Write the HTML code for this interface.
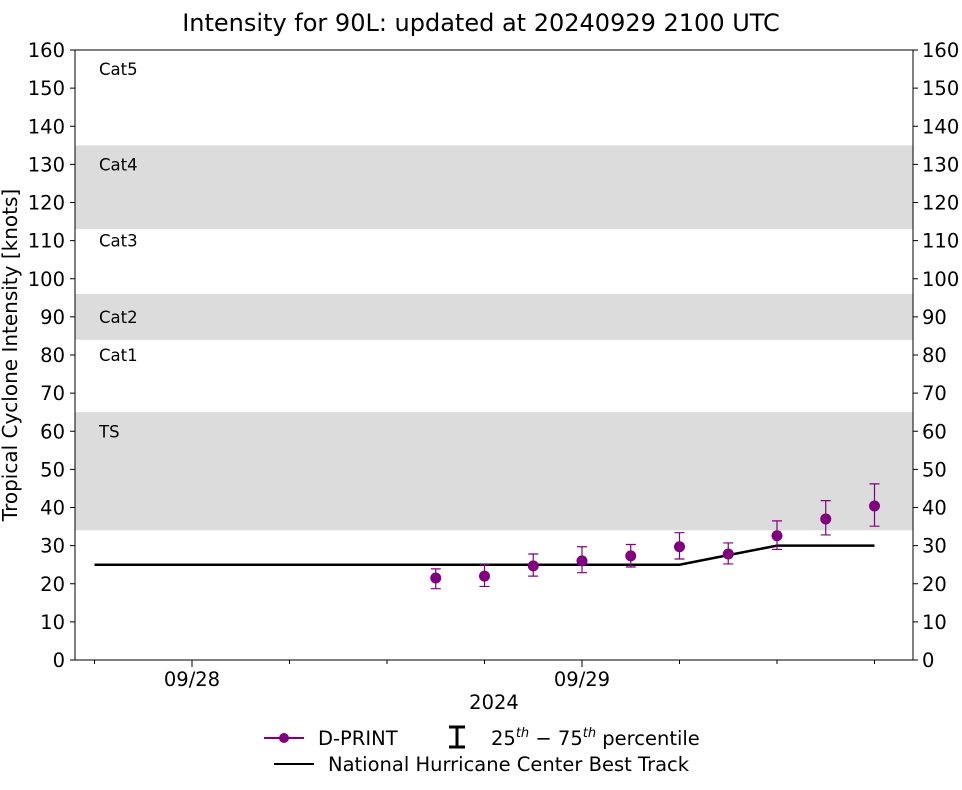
<!DOCTYPE html>
<html><head><meta charset="utf-8"><style>
body{margin:0;background:#fff;font-family:"Liberation Sans","DejaVu Sans",sans-serif;}
</style></head><body>
<svg id="chart" width="962" height="785" xmlns="http://www.w3.org/2000/svg" font-family="DejaVu Sans, Liberation Sans, sans-serif">
<text x="481" y="31" text-anchor="middle" font-size="24">Intensity for 90L: updated at 20240929 2100 UTC</text>
<g id="bands"></g>
<g id="grid"></g>
<g id="marks"></g>
<rect x="75" y="50" width="838" height="610" fill="none" stroke="#000" stroke-width="1"/>
<text transform="translate(17,355) rotate(-90)" text-anchor="middle" font-size="20">Tropical Cyclone Intensity [knots]</text>
<text x="494" y="709" text-anchor="middle" font-size="19.5">2024</text>
<g font-size="19.5">
<line x1="264" y1="738" x2="304" y2="738" stroke="#800080" stroke-width="2"/>
<circle cx="284" cy="738" r="5" fill="#800080"/>
<text x="318" y="745">D-PRINT</text>
<path d="M449 727 H465 M457 727 V747 M449 747 H465" stroke="#000" stroke-width="3" fill="none"/>
<text x="491" y="745">25<tspan font-size="13" font-style="italic" dy="-8">th</tspan><tspan dy="8"> − 75</tspan><tspan font-size="13" font-style="italic" dy="-8">th</tspan><tspan dy="8"> percentile</tspan></text>
<line x1="274" y1="764" x2="314" y2="764" stroke="#000" stroke-width="2"/>
<text x="328" y="771">National Hurricane Center Best Track</text>
</g>
</svg>
<script>
const yTicks=[0,10,20,30,40,50,60,70,80,90,100,110,120,130,140,150,160];
const bandRanges=[[34,65],[84,96],[113,135]];
const catLabels=["TS","Cat1","Cat2","Cat3","Cat4","Cat5"];
const catValues=[60,80,90,110,130,155];
const xMajorHours=[0,24];
const xMajorLabels=["09/28","09/29"];
const trackHours=[-6,30,33,36,42];
const trackValues=[25,25,27.5,30,30];
const dprintHours=[15,18,21,24,27,30,33,36,39,42];
const dprintValues=[21.5,22,24.7,26,27.3,29.7,27.8,32.6,37,40.4];
const dprintLow=[18.7,19.3,22,22.9,24.4,26.5,25.2,29,32.8,35.1];
const dprintHigh=[23.9,25,27.8,29.7,30.3,33.4,30.7,36.5,41.8,46.2];
const NS="http://www.w3.org/2000/svg";
const y=v=>660-v*610/160;
const x=h=>192+h*390/24;
function mk(tag,attrs,parent,txt){const e=document.createElementNS(NS,tag);for(const k in attrs)e.setAttribute(k,attrs[k]);if(txt!==undefined)e.textContent=txt;parent.appendChild(e);return e;}
const bands=document.getElementById('bands'),grid=document.getElementById('grid'),marks=document.getElementById('marks');
bandRanges.forEach(r=>{const e=mk('rect',{x:75,y:y(r[1]),width:838,height:y(r[0])-y(r[1]),fill:'#dcdcdc'},bands);

});
catLabels.forEach((c,i)=>{const e=mk('text',{x:99,y:y(catValues[i])+6,'font-size':16.5},bands,c);

});
yTicks.forEach(v=>{
mk('line',{x1:70,x2:75,y1:y(v),y2:y(v),stroke:'#000'},grid);
mk('line',{x1:913,x2:918,y1:y(v),y2:y(v),stroke:'#000'},grid);
const l=mk('text',{x:65,y:y(v)+7,'text-anchor':'end','font-size':19.5},grid,v);


const r=mk('text',{x:922,y:y(v)+7,'font-size':19.5},grid,v);

});
for(let h=-6;h<=42;h+=6){const maj=xMajorHours.includes(h);mk('line',{x1:x(h),x2:x(h),y1:660,y2:maj?667:664,stroke:'#000'},grid);}
xMajorHours.forEach((h,i)=>{const t=mk('text',{x:x(h),y:686,'text-anchor':'middle','font-size':19.5},grid,xMajorLabels[i]);

});
const tl=mk('polyline',{points:trackHours.map((h,i)=>x(h)+','+y(trackValues[i])).join(' '),fill:'none',stroke:'#000','stroke-width':2.5},marks);


dprintHours.forEach((h,i)=>{const cx=x(h);
const eb=mk('path',{d:`M${cx-5} ${y(dprintLow[i])}H${cx+5}M${cx} ${y(dprintLow[i])}V${y(dprintHigh[i])}M${cx-5} ${y(dprintHigh[i])}H${cx+5}`,stroke:'#800080','stroke-width':1.2,fill:'none'},marks);


const c=mk('circle',{cx:cx,cy:y(dprintValues[i]),r:5.5,fill:'#800080'},marks);

});
</script>
</body></html>
